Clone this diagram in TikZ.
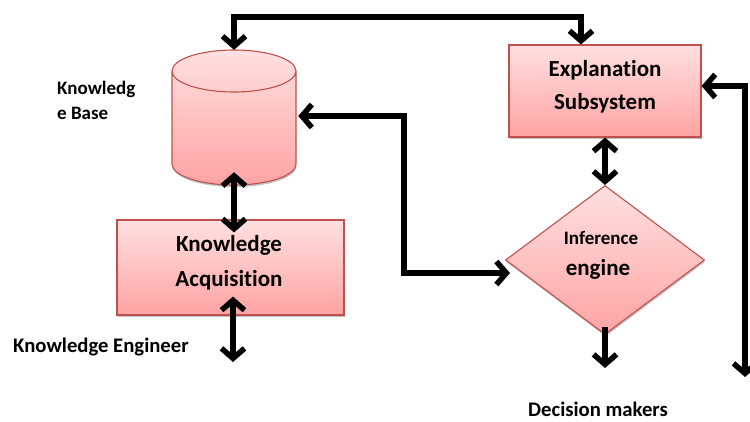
\documentclass[tikz,border=0pt]{standalone}
\usepackage{fontspec}
\setmainfont[Ligatures=NoCommon]{Carlito}
\usetikzlibrary{arrows.meta,shapes.geometric,shadows}
\definecolor{boxtop}{RGB}{255,224,224}
\definecolor{boxbot}{RGB}{255,163,163}
\definecolor{boxline}{RGB}{192,80,77}
\begin{document}
\begin{tikzpicture}[x=1pt,y=1pt,
  >={Straight Barb[length=10pt,width=23pt]},
  block/.style={draw=boxline, line width=1.1pt, top color=boxtop, bottom color=boxbot,
    inner sep=0, drop shadow={shadow xshift=0.6pt, shadow yshift=-2pt, fill=gray!60, opacity=0.8}},
  link/.style={line width=5.5pt, black,
    preaction={draw=gray!55, transform canvas={shift={(1.5pt,-2pt)}}}},
  lbl/.style={inner sep=0, anchor=base},
  fbig/.style={font=\bfseries\fontsize{23}{27}\selectfont},
  fmid/.style={font=\bfseries\fontsize{20.7}{25}\selectfont},
  fsmall/.style={font=\bfseries\fontsize{19}{23}\selectfont},
]
\useasboundingbox (0,0) rectangle (750,421);

% knowledge base cylinder (drawn as a path around a named frame)
\node[minimum width=124pt, minimum height=135pt, inner sep=0] (kb) at (234,303.5) {};
\fill[gray!60, opacity=0.8] (172.6,255) arc[start angle=180, end angle=360, x radius=62, y radius=21] -- cycle;
\path[top color=boxtop, bottom color=boxbot]
  (172,350) -- (172,257) arc[start angle=180, end angle=360, x radius=62, y radius=21]
  -- (296,350) arc[start angle=0, end angle=180, x radius=62, y radius=21] -- cycle;
\draw[boxline, line width=1.1pt]
  (172,350) -- (172,257) arc[start angle=180, end angle=360, x radius=62, y radius=21]
  -- (296,350) arc[start angle=0, end angle=360, x radius=62, y radius=21];

% blocks
\node[block, minimum width=192pt, minimum height=92pt] (exp) at (605,330) {};
\node[block, minimum width=227pt, minimum height=95pt] (ka) at (230.5,153.5) {};
\node[block, shape=diamond, aspect=1.336, minimum width=199pt, minimum height=149pt] (ie) at (605,161) {};

% texts
\node[lbl, fbig] (exp1) at (605,344) {Explanation};
\node[lbl, fbig] (exp2) at (605,311) {Subsystem};
\node[lbl, fbig] (ka1) at (229,169) {Knowledge};
\node[lbl, fbig] (ka2) at (229,135) {Acquisition};
\node[lbl, fsmall] (ie1) at (601,176) {Inference};
\node[lbl, fbig] (ie2) at (598,146) {engine};
\node[lbl, fsmall, anchor=base west] (kb1) at (57,326) {Knowledg};
\node[lbl, fsmall, anchor=base west] (kb2) at (57,301) {e Base};
\node[lbl, fmid, anchor=base west] (ke) at (13,69) {Knowledge Engineer};
\node[lbl, fmid] (dm) at (598,5) {Decision makers};

% connector end points
\coordinate (topbar) at (400,404);
\coordinate (rightend) at (745,44);
\coordinate (bend) at (404,148);
\coordinate (ieleft) at (510,148);
\coordinate (dmend) at (605,53);
\coordinate (keend) at (233,59);

% connectors
\draw[link,<->] (kb.north) |- (topbar) -| ([xshift=-24pt]exp.north);
\draw[link,<->] ([yshift=5pt]exp.east) -| (rightend);
\draw[link,<->] (exp.south) -- (ie.north);
\draw[link,->] ([yshift=8pt]ie.south) -- (dmend);
\draw[link,<->] ([xshift=2pt,yshift=1.5pt]kb.east) -| (bend) -- (ieleft);
\draw[link,<->] ([yshift=13pt]kb.south) -- ([yshift=-13pt]kb.south |- ka.north);
\draw[link,<->] ([xshift=2.5pt,yshift=19pt]ka.south) -- (keend);
\end{tikzpicture}
\end{document}
